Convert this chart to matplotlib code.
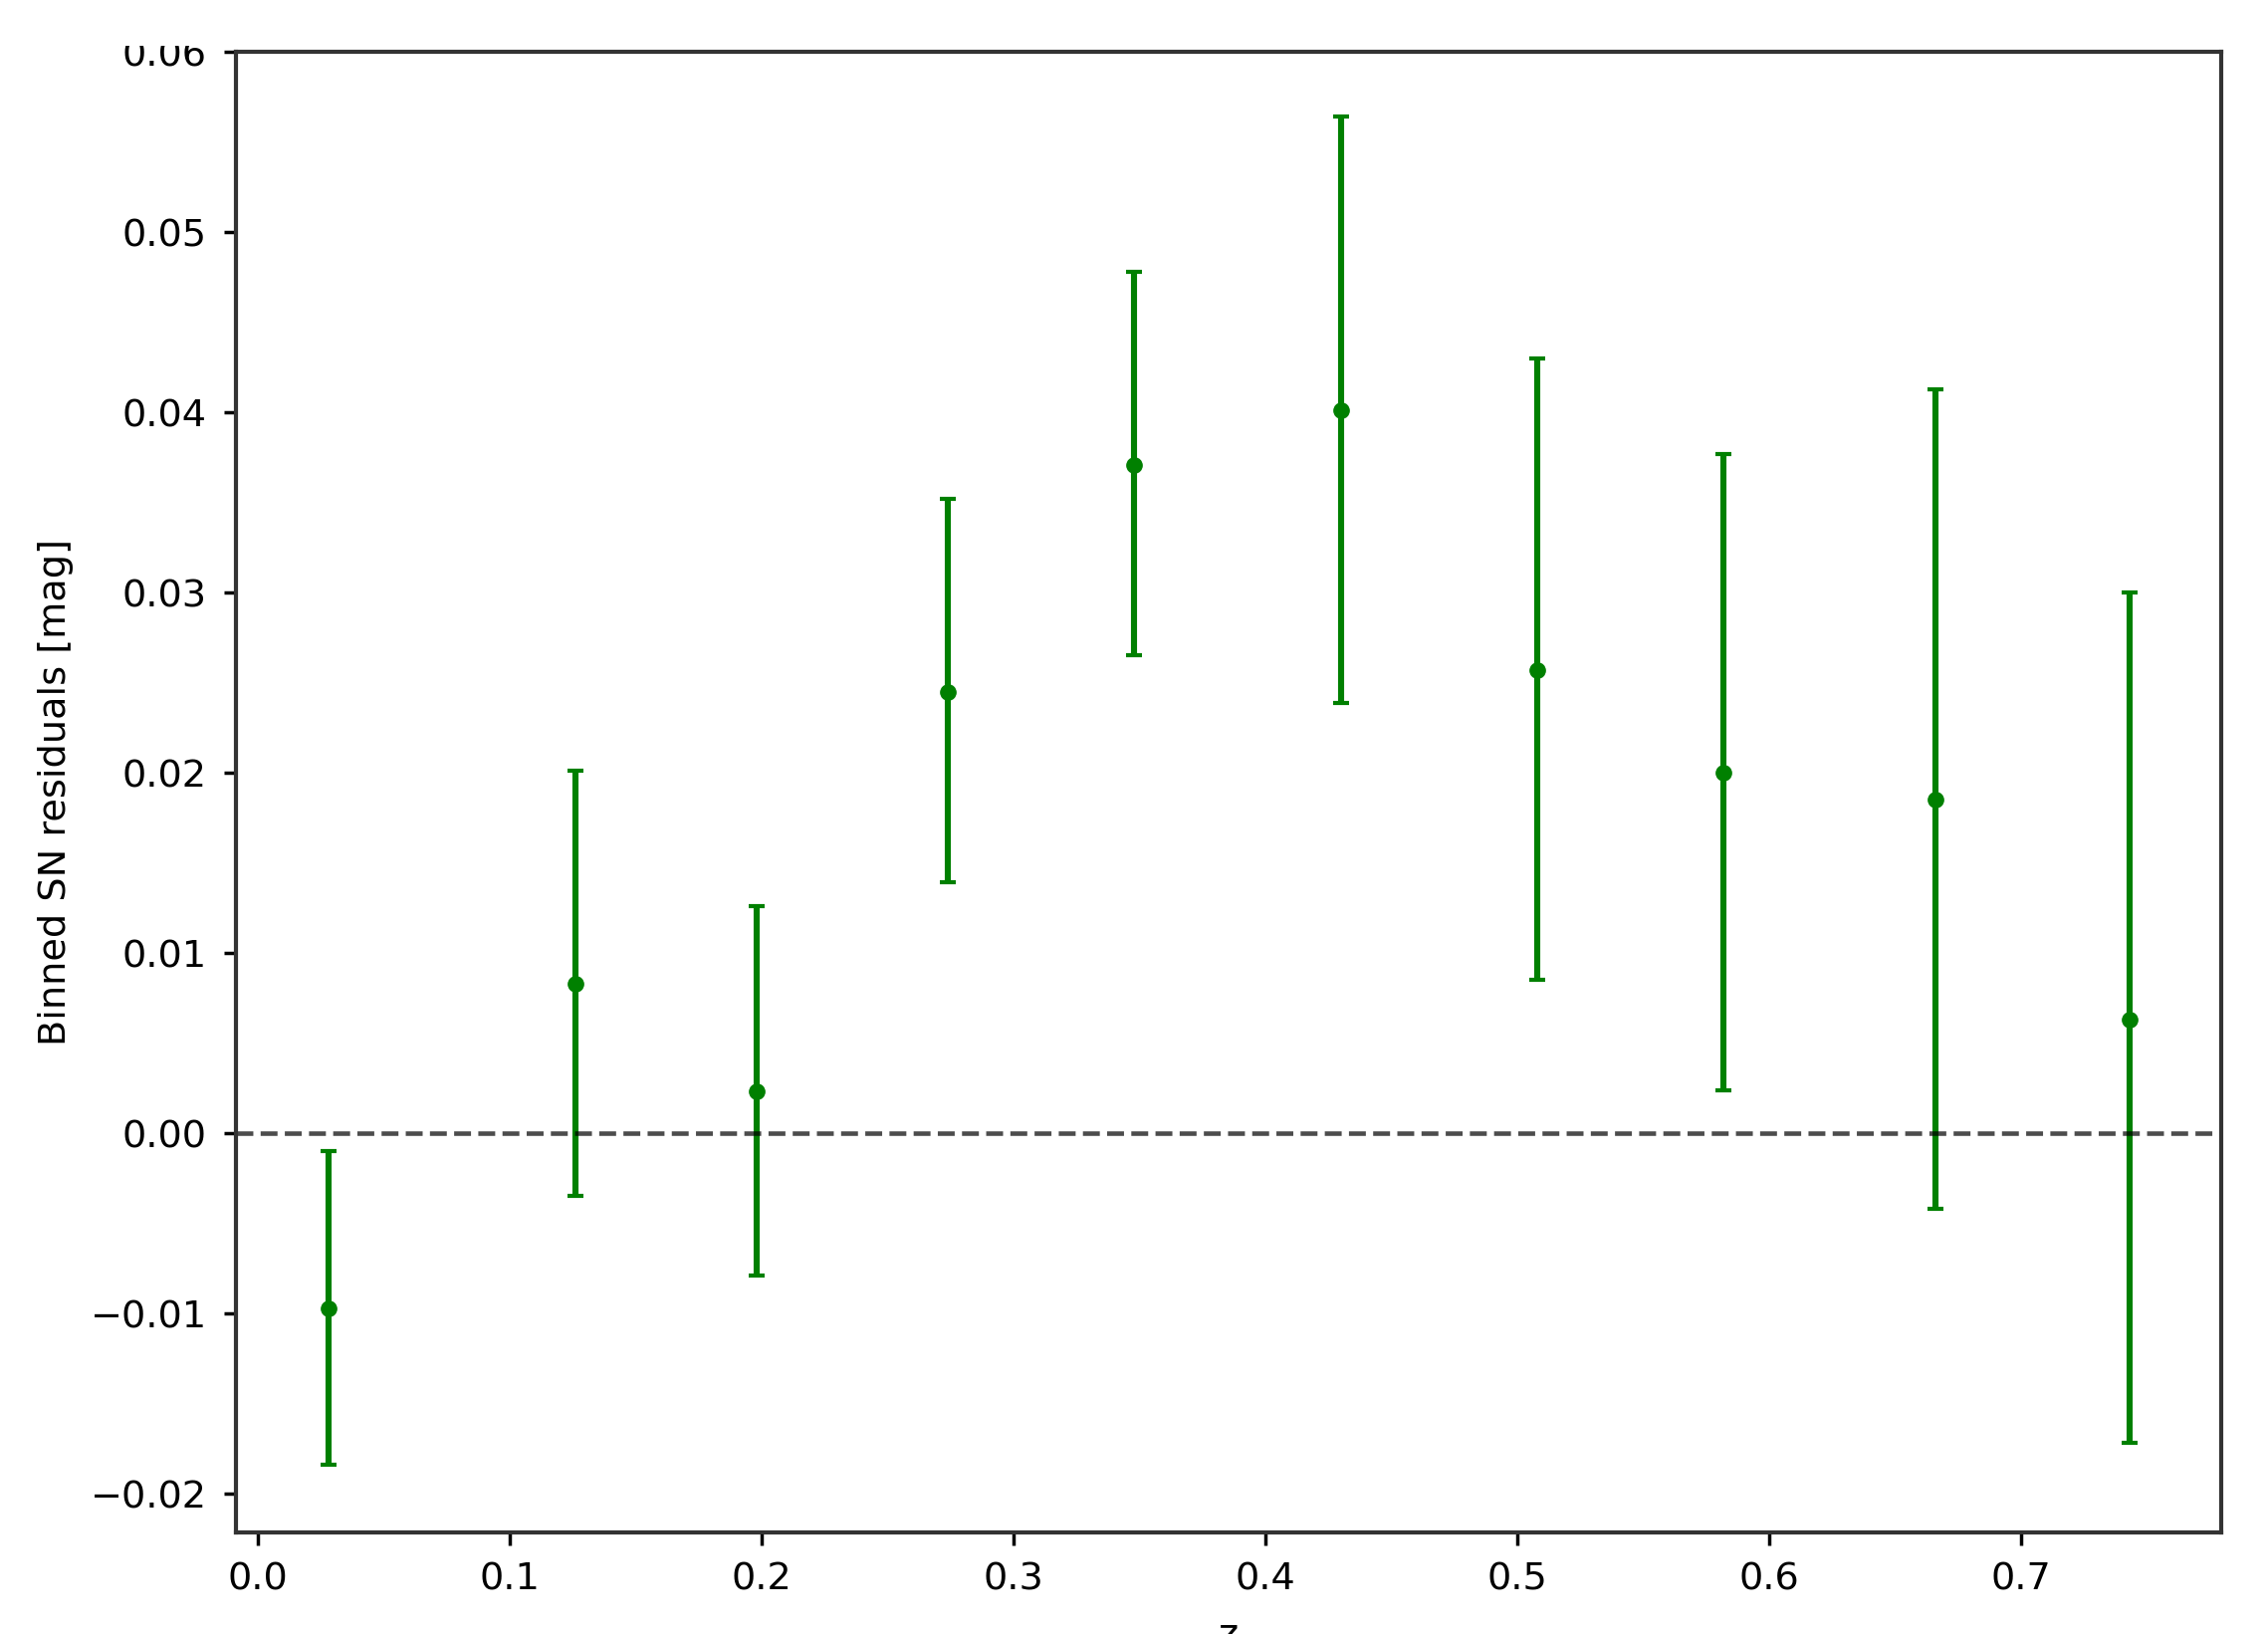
import numpy as np
import matplotlib
matplotlib.use('Agg')
import matplotlib.pyplot as plt
from matplotlib.patches import Rectangle

# binned residuals
z_bins = [0.028, 0.126, 0.198, 0.274, 0.348, 0.430, 0.508, 0.582, 0.666, 0.743]
resid = [-0.0097, 0.0083, 0.0023, 0.0245, 0.0371, 0.0401, 0.0257, 0.0200, 0.0185, 0.0063]
err_hi = [-0.0010, 0.0201, 0.0126, 0.0352, 0.0478, 0.0564, 0.0430, 0.0377, 0.0413, 0.0300]
err_lo = [-0.0184, -0.0035, -0.0079, 0.0139, 0.0265, 0.0239, 0.0085, 0.0024, -0.0042, -0.0172]


def main():
    resid_a = np.array(resid)
    yerr = [resid_a - np.array(err_lo), np.array(err_hi) - resid_a]

    fig = plt.figure(figsize=(22.78, 16.41), dpi=100)
    ax = fig.add_axes([0.104, 0.0622, 0.8753, 0.906])

    ax.errorbar(z_bins, resid, yerr=yerr, fmt='o', color='green',
                markersize=11, elinewidth=4.4, capsize=6, capthick=3)
    ax.axhline(0.0, color='k', linestyle='--', linewidth=3.3, alpha=0.7)

    ax.set_xlim(-0.0087, 0.7794)
    ax.set_ylim(-0.02215, 0.0600)
    ax.set_xticks(np.arange(0.0, 0.75, 0.1))
    ax.set_yticks(np.arange(-0.02, 0.061, 0.01))
    ax.tick_params(labelsize=27.5, length=9, width=2.5, pad=12)
    for sp in ax.spines.values():
        sp.set_linewidth(3)
        sp.set_color('#333333')

    ax.set_xlabel('z', fontsize=27.5)
    ax.set_ylabel('Binned SN residuals [mag]', fontsize=27.5)
    ax.xaxis.set_label_coords(0.5, -0.058)
    ax.yaxis.set_label_coords(-0.0815, 0.5)

    # the source picture is cropped just through the top tick label
    fig.patches.append(Rectangle((0, 1 - 46 / 1641), 1, 46 / 1641, transform=fig.transFigure,
                                 facecolor='white', edgecolor='none', zorder=10))

    fig.savefig('out.png', dpi=100)


if __name__ == '__main__':
    main()
